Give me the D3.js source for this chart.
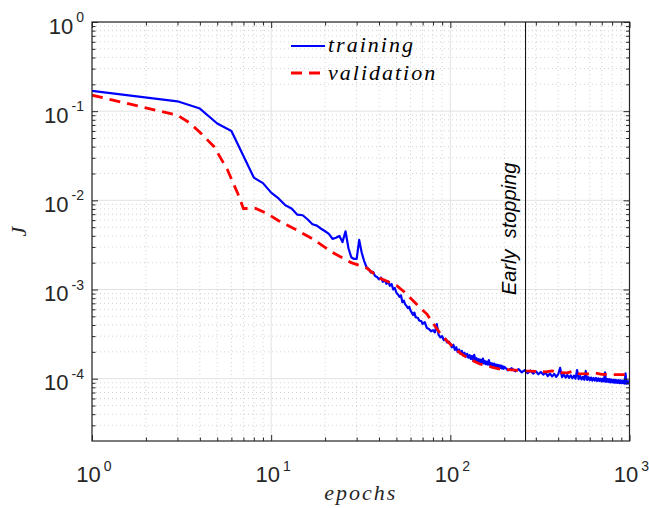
<!DOCTYPE html>
<html>
<head>
<meta charset="utf-8">
<script src="https://cdn.jsdelivr.net/npm/d3@7"></script>
<style>
  body { margin: 0; background: #fff; }
  svg { display: block; }
</style>
</head>
<body>
<script>
// tick labels (10^exp)
var xTicks = [1, 10, 100, 1000];
var xTickExp = ["0", "1", "2", "3"];
var yTicks = [1, 0.1, 0.01, 0.001, 0.0001];
var yTickExp = ["0", "-1", "-2", "-3", "-4"];

var stopEpoch = 263;
var seriesNames = ["training", "validation"];

// [epoch, J]
var training = [
  [1, 0.169], [3, 0.129], [4, 0.107], [5, 0.0727], [6, 0.060], [8, 0.018],
  [9, 0.0156], [10, 0.0122], [11, 0.0105], [12, 0.0088], [13, 0.0081],
  [14, 0.0069], [15, 0.0068], [16, 0.0061], [17, 0.0054], [18, 0.0052],
  [19, 0.0048], [20, 0.0045], [21, 0.0042], [22, 0.0037], [23, 0.0038],
  [24, 0.0040], [25, 0.0034], [26, 0.0045], [27, 0.0029], [28, 0.0023],
  [29, 0.0022], [30, 0.0022], [31, 0.0036], [32, 0.0026], [33, 0.0021],
  [34, 0.0018], [35, 0.0017], [36, 0.00155], [37, 0.00158], [38, 0.00142],
  [39, 0.00138], [40, 0.0013], [41, 0.00136], [42, 0.00122], [43, 0.00128],
  [44, 0.00116], [45, 0.00123], [46, 0.0011], [47, 0.00115], [48, 0.001],
  [49, 0.00104], [50, 0.00092], [51, 0.00088], [52, 0.00083], [53, 0.00086],
  [54, 0.00072], [55, 0.00075], [56, 0.00068], [57, 0.00065], [58, 0.00062],
  [59, 0.00064], [60, 0.00058], [62, 0.00052], [63, 0.00055], [64, 0.00049],
  [66, 0.00048], [67, 0.00045], [69, 0.00044], [70, 0.00041], [72, 0.00043],
  [74, 0.00037], [76, 0.00036], [78, 0.00034], [80, 0.00035], [82, 0.00033],
  [84, 0.00041], [86, 0.00031], [88, 0.00029], [90, 0.0003], [92, 0.00027],
  [94, 0.00028], [96, 0.000255], [98, 0.00026],
  [100, 2.45e-4], [102, 2.25e-4], [104, 2.40e-4], [106, 2.10e-4], [108, 2.25e-4],
  [110, 1.98e-4], [112, 2.12e-4], [114, 1.90e-4], [116, 2.05e-4], [118, 1.82e-4],
  [120, 1.95e-4], [122, 1.76e-4], [124, 1.90e-4], [126, 1.72e-4], [128, 1.84e-4],
  [130, 1.66e-4], [132, 1.80e-4], [134, 1.62e-4], [136, 1.85e-4], [138, 1.60e-4],
  [140, 1.70e-4], [142, 1.55e-4], [144, 1.66e-4], [146, 1.52e-4], [148, 1.63e-4],
  [150, 1.50e-4], [152, 1.68e-4], [154, 1.48e-4], [156, 1.58e-4], [158, 1.45e-4],
  [160, 1.55e-4], [162, 1.44e-4], [164, 1.62e-4], [166, 1.42e-4], [168, 1.50e-4],
  [170, 1.40e-4], [172, 1.48e-4], [174, 1.38e-4], [176, 1.47e-4], [178, 1.36e-4],
  [180, 1.44e-4], [182, 1.35e-4], [184, 1.43e-4], [186, 1.33e-4], [188, 1.41e-4],
  [190, 1.32e-4], [192, 1.40e-4], [194, 1.30e-4], [196, 1.38e-4], [198, 1.29e-4],
  [200, 1.36e-4], [210, 1.24e-4], [220, 1.31e-4], [230, 1.21e-4], [240, 1.28e-4],
  [250, 1.18e-4], [260, 1.25e-4], [270, 1.15e-4], [280, 1.23e-4], [290, 1.14e-4],
  [300, 1.21e-4], [310, 1.12e-4], [320, 1.19e-4], [330, 1.11e-4], [340, 1.17e-4],
  [350, 1.07e-4], [360, 1.14e-4], [370, 1.06e-4], [380, 1.13e-4], [390, 1.05e-4],
  [400, 1.12e-4], [410, 1.32e-4], [420, 1.04e-4], [430, 1.11e-4], [440, 1.03e-4],
  [450, 1.10e-4], [460, 1.02e-4], [470, 1.09e-4], [480, 1.01e-4], [490, 1.08e-4],
  [500, 1.00e-4], [510, 1.25e-4], [520, 0.99e-4], [530, 1.07e-4], [540, 0.98e-4],
  [550, 1.05e-4], [560, 0.97e-4], [570, 1.22e-4], [580, 0.97e-4], [590, 1.04e-4],
  [600, 0.96e-4], [610, 1.03e-4], [620, 0.95e-4], [630, 1.02e-4], [640, 0.95e-4],
  [650, 1.02e-4], [660, 0.94e-4], [670, 1.01e-4], [680, 0.94e-4], [690, 1.00e-4],
  [700, 0.93e-4], [710, 1.00e-4], [720, 0.93e-4], [730, 1.18e-4], [740, 0.92e-4],
  [750, 0.99e-4], [760, 0.92e-4], [770, 0.99e-4], [780, 0.91e-4], [790, 0.98e-4],
  [800, 0.91e-4], [810, 0.97e-4], [820, 0.90e-4], [830, 0.97e-4], [840, 0.90e-4],
  [850, 0.96e-4], [860, 0.90e-4], [870, 0.96e-4], [880, 0.89e-4], [890, 0.96e-4],
  [900, 0.89e-4], [910, 0.95e-4], [920, 0.89e-4], [930, 0.95e-4], [940, 0.88e-4],
  [950, 1.15e-4], [960, 0.88e-4], [970, 0.94e-4], [980, 0.88e-4], [990, 0.93e-4],
  [1000, 0.90e-4]
];

var validation = [
  [1, 0.151], [3, 0.090], [3.5, 0.074], [4, 0.058], [4.8, 0.040], [5.7, 0.022],
  [6.5, 0.012], [7, 0.0081], [8.2, 0.0081], [9.5, 0.0071], [11, 0.0059],
  [14, 0.0046], [17, 0.0037], [22, 0.0026], [28, 0.0020], [34, 0.00175],
  [40, 0.00135], [45, 0.00122], [50, 0.00111], [55, 0.00095], [60, 0.0008],
  [67, 0.00064], [74, 0.00053], [80, 0.00042], [88, 0.00032], [95, 0.00027],
  [104, 2.25e-4], [115, 1.9e-4], [125, 1.7e-4], [146, 1.46e-4], [170, 1.35e-4],
  [190, 1.28e-4], [230, 1.25e-4], [265, 1.22e-4], [300, 1.21e-4], [340, 1.19e-4],
  [370, 1.22e-4], [400, 1.17e-4], [450, 1.16e-4], [480, 1.21e-4], [520, 1.14e-4],
  [600, 1.13e-4], [640, 1.16e-4], [700, 1.12e-4], [800, 1.11e-4], [1000, 1.11e-4]
];

var W = 649, H = 508;
var L = 92, R = 629.5, T = 22, B = 441;
var axisColor = "#262626";
var numFont = "'Liberation Sans', Arial, Helvetica, sans-serif";
var mathFont = "'Liberation Serif', 'Times New Roman', serif";

var svg = d3.select("body").append("svg").attr("width", W).attr("height", H);

var x = d3.scaleLog().domain([1, 1000]).range([L, R]);
var y = d3.scaleLog().domain([2e-5, 1]).range([B, T]);

var xMinor = [], yMinor = [];
[1, 10, 100].forEach(function(d) { for (var k = 2; k < 10; k++) xMinor.push(d * k); });
[1e-5, 1e-4, 1e-3, 1e-2, 1e-1].forEach(function(d) {
  for (var k = 2; k < 10; k++) if (d * k > 2.01e-5) yMinor.push(d * k);
});

// grid
var grid = svg.append("g");
grid.selectAll(".gxm").data(xMinor).enter().append("line")
  .attr("x1", function(d) { return x(d); }).attr("x2", function(d) { return x(d); })
  .attr("y1", T).attr("y2", B)
  .attr("stroke", "#c8c8c8").attr("stroke-width", 0.8).attr("stroke-dasharray", "1,3");
grid.selectAll(".gym").data(yMinor).enter().append("line")
  .attr("y1", function(d) { return y(d); }).attr("y2", function(d) { return y(d); })
  .attr("x1", L).attr("x2", R)
  .attr("stroke", "#c8c8c8").attr("stroke-width", 0.8).attr("stroke-dasharray", "1,3");
grid.selectAll(".gx").data(xTicks).enter().append("line")
  .attr("x1", function(d) { return x(d); }).attr("x2", function(d) { return x(d); })
  .attr("y1", T).attr("y2", B)
  .attr("stroke", "#e2e2e2").attr("stroke-width", 1);
grid.selectAll(".gy").data(yTicks).enter().append("line")
  .attr("y1", function(d) { return y(d); }).attr("y2", function(d) { return y(d); })
  .attr("x1", L).attr("x2", R)
  .attr("stroke", "#e2e2e2").attr("stroke-width", 1);

// series
svg.append("clipPath").attr("id", "plot").append("rect")
  .attr("x", L).attr("y", T).attr("width", R - L).attr("height", B - T);

var line = d3.line()
  .x(function(d) { return x(d[0]); })
  .y(function(d) { return y(d[1]); });

var plot = svg.append("g").attr("clip-path", "url(#plot)");
plot.append("path").datum(training).attr("d", line)
  .attr("fill", "none").attr("stroke", "#0000ff").attr("stroke-width", 2.2)
  .attr("stroke-linejoin", "round");
plot.append("path").datum(validation).attr("d", line)
  .attr("fill", "none").attr("stroke", "#ff0000").attr("stroke-width", 2.8)
  .attr("stroke-dasharray", "11,7");

// early stopping
plot.append("line")
  .attr("x1", x(stopEpoch)).attr("x2", x(stopEpoch))
  .attr("y1", T).attr("y2", B)
  .attr("stroke", "#000").attr("stroke-width", 1);

svg.append("text")
  .attr("transform", "translate(" + (x(stopEpoch) - 10) + ",295) rotate(-90)")
  .attr("font-family", numFont).attr("font-style", "italic").attr("font-size", 20)
  .attr("fill", "#000").style("white-space", "pre")
  .text("Early  stopping");

// ticks (inside, on all four sides)
function ticks(axis, tr, vals, size) {
  var g = svg.append("g").attr("transform", tr)
    .call(axis.tickValues(vals).tickSize(size).tickFormat(""));
  g.select(".domain").remove();
  g.selectAll("line").attr("stroke", axisColor).attr("stroke-width", 1);
}
ticks(d3.axisBottom(x), "translate(0," + B + ")", xTicks, -6);
ticks(d3.axisBottom(x), "translate(0," + B + ")", xMinor, -3.5);
ticks(d3.axisTop(x), "translate(0," + T + ")", xTicks, -6);
ticks(d3.axisTop(x), "translate(0," + T + ")", xMinor, -3.5);
ticks(d3.axisLeft(y), "translate(" + L + ",0)", yTicks, -6);
ticks(d3.axisLeft(y), "translate(" + L + ",0)", yMinor, -3.5);
ticks(d3.axisRight(y), "translate(" + R + ",0)", yTicks, -6);
ticks(d3.axisRight(y), "translate(" + R + ",0)", yMinor, -3.5);

svg.append("rect")
  .attr("x", L).attr("y", T).attr("width", R - L).attr("height", B - T)
  .attr("fill", "none").attr("stroke", axisColor).attr("stroke-width", 1.2);

// tick labels
var xl = svg.selectAll(".xl").data(xTicks).enter().append("text")
  .attr("x", function(d) { return x(d) + 2; }).attr("y", B + 41)
  .attr("text-anchor", "middle").attr("font-family", numFont).attr("fill", "#262626");
xl.append("tspan").attr("font-size", 22).text("10");
xl.append("tspan").attr("font-size", 14).attr("dx", 3).attr("dy", -11)
  .text(function(d, i) { return xTickExp[i]; });

var yl = svg.selectAll(".yl").data(yTicks).enter().append("text")
  .attr("x", L - 8).attr("y", function(d) { return y(d) + 11.5; })
  .attr("text-anchor", "end").attr("font-family", numFont).attr("fill", "#262626");
yl.append("tspan").attr("font-size", 22).text("10");
yl.append("tspan").attr("font-size", 14).attr("dx", 3).attr("dy", -11.5)
  .text(function(d, i) { return yTickExp[i]; });

// axis labels
svg.append("text")
  .attr("x", (L + R) / 2).attr("y", 500).attr("text-anchor", "middle")
  .attr("font-family", mathFont).attr("font-style", "italic").attr("font-size", 22)
  .attr("letter-spacing", 2).attr("fill", "#262626").text("epochs");

svg.append("text")
  .attr("transform", "translate(26," + ((T + B) / 2) + ") rotate(-90)")
  .attr("text-anchor", "middle")
  .attr("font-family", mathFont).attr("font-style", "italic").attr("font-size", 22)
  .attr("fill", "#262626").text("J");

// legend
var legend = svg.append("g");
legend.append("line").attr("x1", 291).attr("x2", 325).attr("y1", 46).attr("y2", 46)
  .attr("stroke", "#0000ff").attr("stroke-width", 2.2);
legend.append("line").attr("x1", 291).attr("x2", 325).attr("y1", 73).attr("y2", 73)
  .attr("stroke", "#ff0000").attr("stroke-width", 2.8).attr("stroke-dasharray", "11,7");
legend.selectAll("text").data(seriesNames).enter().append("text")
  .attr("x", 328).attr("y", function(d, i) { return 52 + i * 28; })
  .attr("font-family", mathFont).attr("font-style", "italic").attr("font-size", 22)
  .attr("letter-spacing", 2).attr("fill", "#000")
  .text(function(d) { return d; });
</script>
</body>
</html>
